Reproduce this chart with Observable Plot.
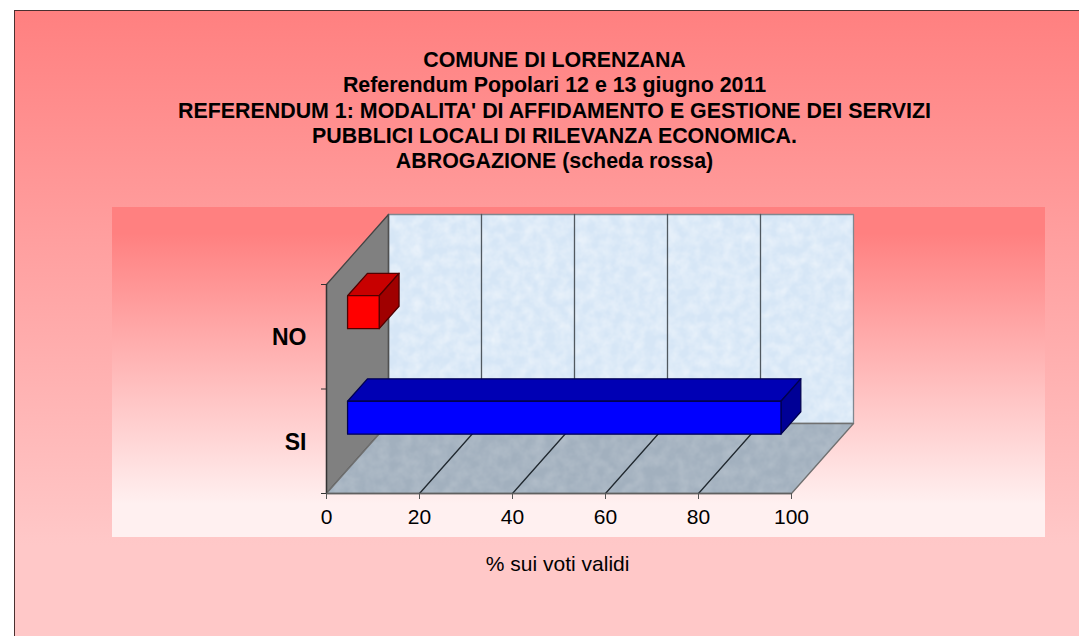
<!DOCTYPE html>
<html><head><meta charset="utf-8">
<script src="https://cdn.jsdelivr.net/npm/d3@7"></script>
<script src="https://cdn.jsdelivr.net/npm/@observablehq/plot@0.6"></script>
<style>
html,body{margin:0;padding:0;background:#fff;overflow:hidden}
#page{position:relative;width:1079px;height:636px;font-family:"Liberation Sans",Arial,sans-serif;overflow:hidden}
#outer{position:absolute;left:14px;top:10px;right:-4px;bottom:-4px;box-sizing:border-box;border:1px solid #4a3030;background:linear-gradient(#ff8080 0%,#ffc8c8 85%,#ffc8c8 100%)}
#inner{position:absolute;left:112px;top:207px;width:933px;height:330px;background:linear-gradient(#ff8080 0%,#ff8080 8%,#fff0f0 90%,#fff0f0 100%)}
#title{position:absolute;top:48px;left:0;width:1109px;text-align:center;font-weight:bold;font-size:21.4px;line-height:25.3px;color:#000}
#chart{position:absolute;left:0;top:0}
#chart svg{background:none}
</style></head>
<body>
<div id="page"><div id="outer"></div><div id="inner"></div>
<div id="title"></div>
<div id="chart"></div></div>
<script>
const titleLines = [
  "COMUNE DI LORENZANA",
  "Referendum Popolari 12 e 13 giugno 2011",
  "REFERENDUM 1: MODALITA' DI AFFIDAMENTO E GESTIONE DEI SERVIZI",
  "PUBBLICI LOCALI DI RILEVANZA ECONOMICA.",
  "ABROGAZIONE (scheda rossa)"
];
const categories = ["SI", "NO"];
const values = [93.2, 6.8];
const xTicks = [0, 20, 40, 60, 80, 100];
const xLabel = "% sui voti validi";
const barColors = [
  {front:"#0000ff", top:"#0000b4", side:"#000096", line:"#000050"},
  {front:"#ff0000", top:"#c80000", side:"#a00000", line:"#500000"}
];

document.getElementById("title").innerHTML = titleLines.join("<br>");

const depthX = 13.33, depthY = 0.67;
const P = (x, y, z) => ({x: x + z * depthX, y: y + z * depthY});
const poly = (pts) => pts.map(p => P(...p));
const face = (pts, fill, stroke, w = 1.3) =>
  Plot.line(poly(pts), {x: "x", y: "y", fill, stroke, strokeWidth: w, curve: "linear-closed"});
const seg = (a, b, stroke, w = 1.3) =>
  Plot.line(poly([a, b]), {x: "x", y: "y", stroke, strokeWidth: w});

const barLow = 0.34, barHigh = 0.655, bandStep = 1.01, z0 = 0.34, z1 = 0.66;
const barMarks = categories.flatMap((c, i) => {
  const v = values[i], a = i * bandStep + barLow, b = i * bandStep + barHigh, k = barColors[i];
  return [
    face([[0,b,z0],[v,b,z0],[v,b,z1],[0,b,z1]], k.top, k.line),
    face([[v,a,z0],[v,b,z0],[v,b,z1],[v,a,z1]], k.side, k.line),
    face([[0,a,z0],[v,a,z0],[v,b,z0],[0,b,z0]], k.front, k.line)
  ];
});

const chart = Plot.plot({
  width: 1079, height: 636,
  marginLeft: 326, marginRight: 226, marginTop: 214, marginBottom: 143,
  style: {background: "none", fontFamily: '"Liberation Sans",Arial,sans-serif', overflow: "visible"},
  x: {type: "linear", domain: [0, 100 + depthX]},
  y: {type: "linear", domain: [0, 2 + depthY]},
  marks: [
    face([[0,0,1],[100,0,1],[100,2,1],[0,2,1]], "url(#wallTex)", "#808890"),
    face([[0,0,0],[0,2,0],[0,2,1],[0,0,1]], "#808080", "#444"),
    face([[0,0,0],[100,0,0],[100,0,1],[0,0,1]], "url(#floorTex)", "#707070"),
    ...xTicks.slice(1, -1).flatMap(t => [
      seg([t,0,1],[t,2,1], "#50585f"),
      seg([t,0,0],[t,0,1], "#20282f")
    ]),
    seg([0,0,1],[0,2,1], "#505050"),
    ...barMarks,
    Plot.ruleX([0], {y1: 0, y2: 2, stroke: "#333", strokeWidth: 1.3}),
    Plot.ruleY([0], {x1: 0, x2: 100, stroke: "#606060", strokeWidth: 1.3}),
    Plot.axisY({ticks: [0,1,2], tickFormat: () => null, tickSize: 5, stroke: "#333", label: null}),
    Plot.axisX({ticks: xTicks, tickSize: 6, tickPadding: 10, fontSize: 21, fill: "#000", stroke: "#555",
      label: null, tickFormat: d3.format("d")}),
    Plot.text([xLabel], {x: 49.7, y: 0, text: d => d, fontSize: 21, fill: "#000", dy: 71}),
    Plot.text(categories, {x: 0, y: (d, i) => i + 0.49, text: d => d, dx: -20, textAnchor: "end",
      fontSize: 23, fontWeight: "bold", fill: "#000"})
  ]
});

const defs = d3.select(chart).insert("defs", ":first-child");
const f = defs.append("filter").attr("id", "tex").attr("x", 0).attr("y", 0).attr("width", "100%").attr("height", "100%");
f.append("feTurbulence").attr("type", "fractalNoise").attr("baseFrequency", 0.09).attr("numOctaves", 4).attr("seed", 4);
f.append("feColorMatrix").attr("values", "0 0 0 0 1  0 0 0 0 1  0 0 0 0 1  1.6 0 0 0 -0.5");
const pat = (id, base, op) => {
  const p = defs.append("pattern").attr("id", id).attr("patternUnits", "userSpaceOnUse").attr("width", 900).attr("height", 500);
  p.append("rect").attr("width", 900).attr("height", 500).attr("fill", base);
  p.append("rect").attr("width", 900).attr("height", 500).attr("filter", "url(#tex)").attr("opacity", op);
};
pat("wallTex", "#d6e6f6", 0.5);
pat("floorTex", "#a2b0be", 0.18);
document.getElementById("chart").appendChild(chart);
</script>
</body></html>
